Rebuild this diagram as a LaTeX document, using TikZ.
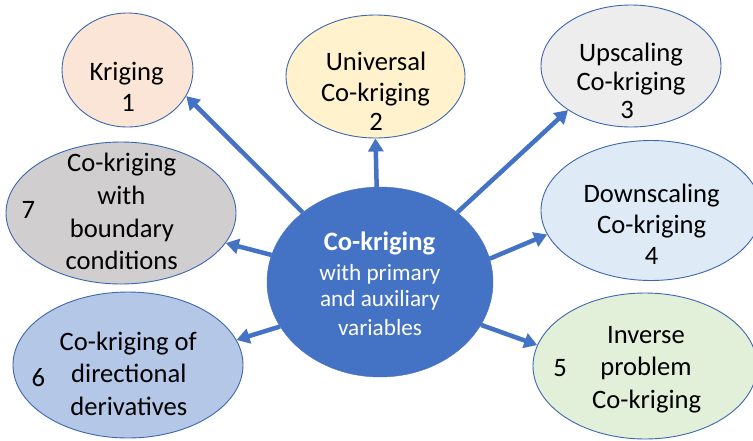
\documentclass[tikz,border=0pt]{standalone}
\usepackage{fontspec}
\setmainfont{Carlito}
\usetikzlibrary{arrows.meta,shapes.geometric}
\definecolor{cblue}{HTML}{4472C4}
\definecolor{edge}{HTML}{3D66B0}
\definecolor{fk}{HTML}{FBE5D6}
\definecolor{fu}{HTML}{FFF2CC}
\definecolor{fup}{HTML}{EDEDED}
\definecolor{fb}{HTML}{D0CECE}
\definecolor{fd}{HTML}{DEEBF7}
\definecolor{fdir}{HTML}{B4C7E7}
\definecolor{finv}{HTML}{E2F0D9}
\begin{document}
\begin{tikzpicture}[x=1pt,y=-1pt,
  bub/.style={ellipse, draw=edge, line width=0.9pt, inner sep=0pt},
  ln/.style={anchor=base, inner sep=0pt, font=\fontsize{26.6}{32}\selectfont, text=black},
  cln/.style={anchor=base, inner sep=0pt, font=\fontsize{23.2}{28}\selectfont, text=white},
  cbold/.style={anchor=base, inner sep=0pt, font=\fontsize{26.6}{32}\selectfont\bfseries, text=white},
  arr/.style={draw=cblue, line width=4.5pt, -{Triangle[length=13pt,width=15pt]}}]
\clip (0,0) rectangle (753,440);
\fill[white] (0,0) rectangle (753,440);
% bubbles
\node[bub, fill=fk, minimum width=131pt, minimum height=114pt] (k) at (127.5,70) {};
\node[bub, fill=fu, minimum width=179pt, minimum height=123pt] (u) at (375.5,76.5) {};
\node[bub, fill=fup, minimum width=180pt, minimum height=122pt] (up) at (631,66) {};
\node[bub, fill=fb, minimum width=230pt, minimum height=142pt] (b) at (121,213) {};
\node[bub, fill=fd, minimum width=220pt, minimum height=140pt] (d) at (651,210.5) {};
\node[bub, fill=fdir, minimum width=230pt, minimum height=146pt] (dir) at (128,365) {};
\node[bub, fill=finv, minimum width=224pt, minimum height=146pt] (inv) at (645,366) {};
\node[ellipse, fill=cblue, draw=cblue, inner sep=0pt, minimum width=226pt, minimum height=190pt] (c) at (380,282) {};
% arrows
\draw[arr] (c.138) -- (k.-24);
\draw[arr] (c.92) -- (u.-90);
\draw[arr] (c.42) -- (up.215);
\draw[arr] (c.12) -- (d.193);
\draw[arr] (c.-23) -- (inv.169);
\draw[arr] (c.204) -- (dir.13);
\draw[arr] (c.166) -- (b.-16);
% texts
\node[ln] (k1) at (126.7,80) {Kriging};
\node[ln] (k2) at (128,111.7) {1};
\node[ln] (u1) at (376,70) {Universal};
\node[ln] (u2) at (375.5,101.7) {Co-kriging};
\node[ln] (u3) at (376,130) {2};
\node[ln] (up1) at (631,61) {Upscaling};
\node[ln] (up2) at (631,90.7) {Co-kriging};
\node[ln] (up3) at (627,118) {3};
\node[ln] (b1) at (121.7,171.7) {Co-kriging};
\node[ln] (b2) at (121.3,204) {with};
\node[ln] (b3) at (122,237.3) {boundary};
\node[ln] (b4) at (121.7,269.3) {conditions};
\node[ln] (b5) at (28.3,218.3) {7};
\node[ln] (d1) at (651.7,202.3) {Downscaling};
\node[ln] (d2) at (651.7,233.3) {Co-kriging};
\node[ln] (d3) at (651.7,264.3) {4};
\node[ln] (dir1) at (128.3,350) {Co-kriging of};
\node[ln] (dir2) at (128.8,382.7) {directional};
\node[ln] (dir3) at (128.8,415) {derivatives};
\node[ln] (dir4) at (38.3,386.7) {6};
\node[ln] (inv1) at (646,343.3) {Inverse};
\node[ln] (inv2) at (646,375) {problem};
\node[ln] (inv3) at (646.7,408.3) {Co-kriging};
\node[ln] (inv4) at (560,376.7) {5};
\node[cbold] (c1) at (379.5,250) {Co-kriging};
\node[cln] (c2) at (380,280) {with primary};
\node[cln] (c3) at (380,306.7) {and auxiliary};
\node[cln] (c4) at (380,335) {variables};
\end{tikzpicture}
\end{document}
